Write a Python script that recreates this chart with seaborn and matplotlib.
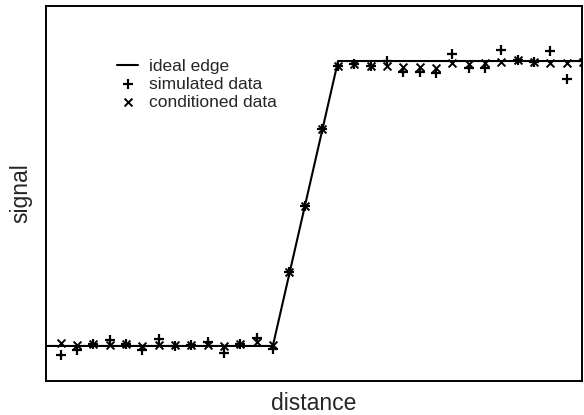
import numpy as np
import pandas as pd
import matplotlib
matplotlib.use("Agg")
import matplotlib.pyplot as plt
import seaborn as sns

# sample positions along the profile
position = list(range(33))

# ideal step edge (breakpoints)
edge_x = [-2, 13, 17, 34]
edge_y = [0.0, 0.0, 1.0, 1.0]

# simulated (noisy) samples
simulated = [-0.032, -0.014, 0.007, 0.021, 0.007, -0.014, 0.025, 0.0, 0.004, 0.014,
             -0.025, 0.007, 0.028, -0.011,
             0.26, 0.49, 0.76,
             0.982, 0.989, 0.982, 1.0, 0.961, 0.961, 0.958, 1.025, 0.975, 0.975,
             1.039, 1.004, 0.996, 1.035, 0.937, 1.0]

# conditioned samples
conditioned = [0.011, 0.004, 0.007, 0.004, 0.007, 0.0, 0.004, 0.004, 0.004, 0.004,
               0.0, 0.007, 0.014, 0.004,
               0.26, 0.49, 0.76,
               0.982, 0.989, 0.982, 0.982, 0.979, 0.979, 0.975, 0.993, 0.989, 0.993,
               0.996, 1.004, 0.996, 0.993, 0.993, 0.996]

sns.set_style("white")
plt.rcParams['font.family'] = ['Liberation Sans', 'DejaVu Sans']

fig = plt.figure(figsize=(5.84, 4.15), dpi=100)
ax = fig.add_axes([0.0788, 0.0819, 0.9178, 0.9036])

edge = pd.DataFrame({'x': edge_x, 'y': edge_y})
samples = pd.DataFrame({'x': position, 'sim': simulated, 'cond': conditioned})

sns.lineplot(data=edge, x='x', y='y', color='black', linewidth=1.5,
             label='ideal edge', ax=ax)
sns.scatterplot(data=samples, x='x', y='sim', marker='+', s=60, color='black',
                linewidth=1.6, label='simulated data', ax=ax)
sns.scatterplot(data=samples, x='x', y='cond', marker='x', s=32, color='black',
                linewidth=1.4, label='conditioned data', ax=ax)

ax.set_xlim(-0.9, 31.95)
ax.set_ylim(-0.123, 1.193)
ax.set_xticks([])
ax.set_yticks([])
ax.set_xlabel('distance', fontsize=16.5, labelpad=8)
ax.set_ylabel('signal', fontsize=16.5, labelpad=10)
for s in ax.spines.values():
    s.set_color('black')
    s.set_linewidth(1.4)

ax.legend(loc='upper left', bbox_to_anchor=(0.12, 0.877), frameon=False,
          fontsize=12.5, handlelength=1.2, handletextpad=0.6,
          labelspacing=0.15, borderaxespad=0)

fig.savefig('out.png', dpi=100)
